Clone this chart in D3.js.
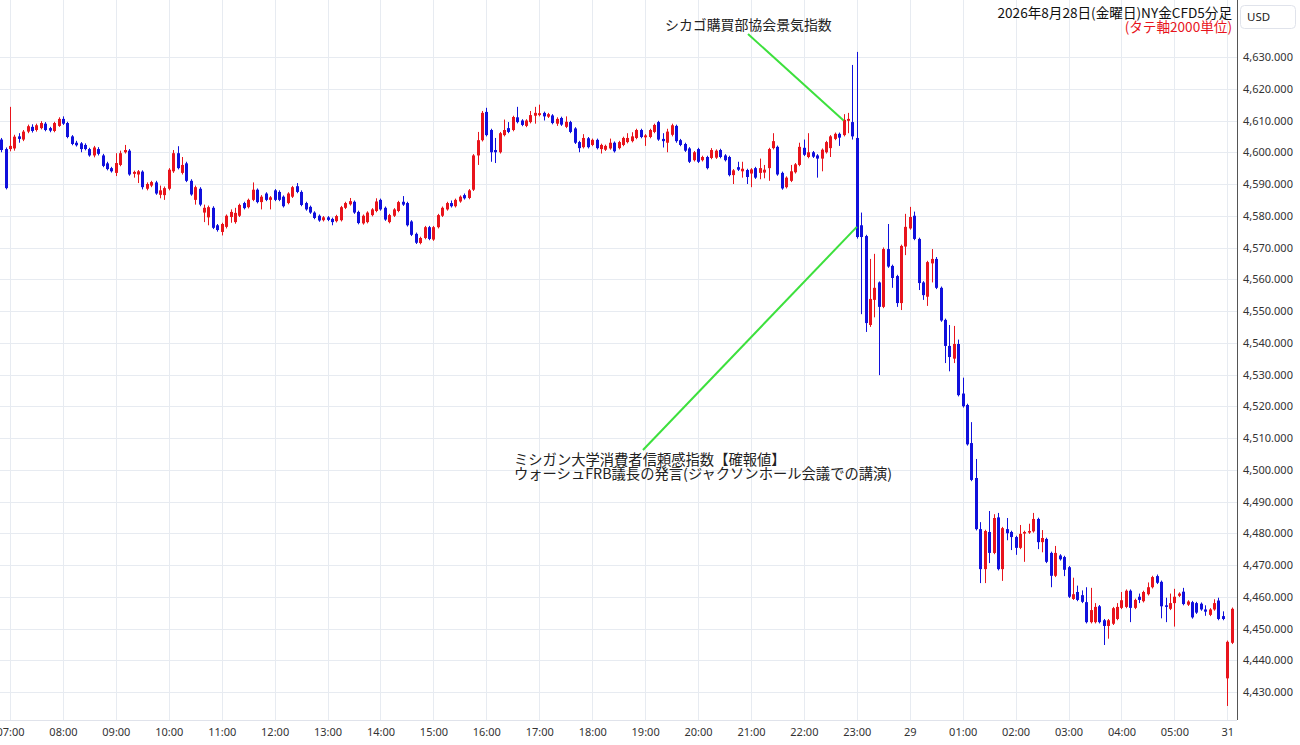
<!DOCTYPE html>
<html><head><meta charset="utf-8">
<script src="https://cdn.jsdelivr.net/npm/d3@7"></script>
<style>body{margin:0;background:#fff;} svg{display:block;}</style>
</head><body>
<svg id="c" width="1300" height="745"></svg>
<script>
// time-axis labels (one every 12 five-minute bars, first bar index = 06:50)
const timeLabels = ["07:00","08:00","09:00","10:00","11:00","12:00","13:00","14:00","15:00","16:00","17:00","18:00","19:00","20:00","21:00","22:00","23:00","29","01:00","02:00","03:00","04:00","05:00","31"];
const priceTicks = [4430,4440,4450,4460,4470,4480,4490,4500,4510,4520,4530,4540,4550,4560,4570,4580,4590,4600,4610,4620,4630];
// 5-minute bars [open, high, low, close], starting at 06:50
const bars = [
[4604,4604.5,4600,4600.7],[4601,4601.5,4588.3,4588.7],
[4601,4614.3,4600.3,4602],[4601.2,4605.5,4600.5,4604.9],[4605,4606,4603,4604.2],[4604,4607,4603.5,4606.5],[4606.5,4608.7,4606,4608.2],[4608,4608.8,4606.2,4606.7],
[4607,4609,4606.5,4608.5],[4607.6,4609.8,4607.2,4609.2],[4609,4609.5,4606.6,4607],[4607.6,4608,4606.3,4606.8],[4606.7,4609.6,4606.3,4609.2],[4608.3,4611,4608,4610.5],
[4610.5,4611.3,4608.6,4609],[4609.2,4609.6,4604.4,4604.8],[4605,4605.4,4602.2,4602.6],[4603,4603.6,4601.8,4602.2],[4602.8,4603.2,4600,4601],[4602.3,4602.8,4600.6,4601],
[4601,4601.4,4598.6,4599],[4599,4602,4598.4,4601.5],[4601,4601.6,4599,4599.5],[4599,4599.5,4595.3,4595.7],[4596.5,4597,4594.3,4594.7],[4595,4595.4,4593.6,4594],
[4593.5,4599.7,4592.5,4596.6],[4596,4600.5,4595.6,4599.7],[4600,4602.3,4599.6,4600.7],[4600.5,4601,4592.6,4593],[4593.2,4594.2,4592,4593.8],[4593,4594.4,4590.3,4594],
[4593.9,4594.3,4588.3,4589],[4588.5,4590.5,4588,4590],[4589.5,4591,4589,4590.6],[4590.5,4591,4586.6,4587],[4586.6,4589.5,4585.5,4588],[4586.5,4589.2,4585,4588.7],
[4588.5,4595,4588,4594.5],[4594,4600.7,4593.5,4599.7],[4599.7,4601.9,4594.6,4595],[4593.5,4598.5,4593,4596],[4596.5,4597,4590.6,4591],[4591,4591.5,4586.3,4586.7],
[4585,4589.5,4583.5,4589],[4588.5,4589,4583,4583.5],[4581,4583.5,4578,4582.5],[4579.5,4583.2,4577,4582.7],[4582.5,4583,4575.8,4576.2],[4577,4577.4,4575,4575.5],
[4574.9,4577.8,4573.8,4577.4],[4576.5,4580.4,4576,4580],[4579.6,4582,4577.8,4581.2],[4578,4582.5,4577.5,4580.9],[4580,4583.8,4579.6,4583.4],[4584,4584.4,4582,4582.4],
[4582.7,4585.4,4582.3,4585],[4585,4590.5,4584.6,4588.2],[4588.2,4588.6,4583.9,4584.3],[4584.3,4586.5,4582,4586],[4587,4587.4,4584.6,4585],[4585,4586.2,4582,4585.8],
[4588,4588.4,4584.6,4585],[4587.5,4588,4584.6,4585],[4586,4586.4,4582.6,4583],[4584,4587.4,4583.6,4587],[4586,4589.4,4585.6,4589],[4589.3,4590.3,4587.1,4587.5],
[4587.5,4588,4583,4583.4],[4584,4584.4,4581.6,4582],[4582.8,4583.2,4580.6,4581],[4581,4581.4,4578.9,4579.3],[4580,4580.4,4578.1,4578.5],[4578.6,4579.9,4578.2,4579.5],
[4579.5,4579.9,4578.3,4578.7],[4579,4579.4,4577,4578],[4578.3,4580.3,4577.9,4579.9],[4578.6,4583.1,4578.2,4582.7],[4582.5,4584.4,4582.1,4584],[4583.6,4585.6,4583.2,4584.6],
[4584.4,4584.8,4580.6,4581],[4581.2,4581.6,4577.3,4577.7],[4577.6,4580.4,4577.2,4580],[4578,4581.4,4577.6,4581],[4580.2,4582.4,4579.8,4582],[4581.5,4585.5,4581.1,4584.5],
[4585,4585.4,4581.6,4582],[4582.5,4582.9,4578.4,4578.8],[4578,4580.6,4577.6,4580.2],[4580,4582.4,4579.6,4582],[4581.5,4584.7,4581.1,4584.3],[4584.4,4586.2,4583.1,4583.5],
[4584,4584.4,4576.6,4577],[4578.2,4578.6,4573.6,4574],[4574.3,4574.7,4571.1,4571.5],[4571.4,4573.4,4571,4573],[4573,4576.8,4572.6,4576.4],[4576.4,4576.8,4572.3,4572.7],
[4572.5,4576.8,4572.1,4576.4],[4576.4,4580.6,4576,4580.2],[4580,4582.9,4579.6,4582.5],[4582,4584.4,4581.6,4584],[4584,4584.8,4582.6,4583],[4583,4585.4,4582.6,4585],
[4584.5,4586.4,4584.1,4586],[4586.5,4587,4585.1,4585.5],[4585.6,4588.4,4585.2,4588],[4588.2,4599.4,4587.8,4599],[4599,4606.4,4596,4603.8],[4603.8,4613,4603.4,4612.4],
[4612.7,4614,4605,4605.4],[4607,4607.4,4597,4600],[4600.7,4604.5,4596.6,4600],[4600,4606.4,4599.6,4606],[4605.4,4610.3,4605,4607],[4607.6,4609.5,4606,4606.4],
[4607,4611.5,4606.6,4611.1],[4611,4614.3,4609.1,4609.5],[4610,4610.4,4608.2,4608.6],[4608.3,4610.4,4607.9,4610],[4609.5,4613,4609.1,4611.7],[4611.5,4614.3,4609,4612.4],
[4611.7,4615,4611.3,4612.3],[4612.4,4612.8,4610,4611.3],[4611.2,4612.4,4610.8,4612],[4611.6,4612,4608.8,4609.2],[4609,4611,4608.3,4610.5],[4610.8,4611.2,4608.3,4608.7],
[4608,4611.3,4607.6,4609.6],[4609.5,4609.9,4606,4606.4],[4607.5,4607.9,4602.6,4603],[4603.2,4603.6,4600,4601.3],[4601.6,4605.7,4601.2,4604.5],[4604.4,4604.8,4601.2,4601.6],
[4602.3,4604.3,4601.9,4603.9],[4603.9,4604.3,4600.9,4601.3],[4601,4602.7,4599.6,4602.3],[4600.8,4602.4,4600.4,4602],[4601.2,4604.3,4600.8,4603],[4603,4603.4,4599.9,4600.3],
[4601.3,4603.6,4600.9,4603.2],[4602.3,4604.9,4601.9,4604.5],[4603.2,4606,4602.8,4604.5],[4603.5,4606.3,4603.1,4605],[4604.5,4607.4,4604.1,4607],[4607,4607.4,4604.4,4604.8],
[4604.7,4605.7,4602,4605.3],[4604.8,4607.4,4604.4,4607],[4606.4,4609,4606,4608.6],[4609.5,4609.9,4603.6,4604],[4604.2,4606,4601.5,4603.5],[4603,4607.4,4600,4606.5],
[4605.5,4609,4605,4608.5],[4608.3,4608.7,4603,4603.5],[4603.8,4604.2,4601.9,4602.3],[4602.6,4603,4600.1,4600.5],[4601.2,4601.6,4596.6,4597],[4597.5,4600.4,4597.1,4600],
[4601,4601.4,4596.6,4597],[4597.5,4598.9,4597.1,4598.5],[4598.5,4598.9,4594.6,4595],[4598.2,4601.3,4597.8,4600.7],[4598.3,4600.9,4597.9,4600.5],[4600.7,4601.1,4598.1,4598.5],
[4599,4599.4,4597.1,4597.5],[4598.5,4598.9,4592.4,4592.8],[4592.8,4594.7,4590,4594.3],[4595.3,4597,4594.1,4594.5],[4594,4597,4592,4594.8],[4594.4,4594.8,4590,4592.2],
[4593.3,4595,4589,4594.6],[4595,4595.4,4591.6,4592],[4593.5,4598,4591.5,4595],[4593.6,4596,4591.8,4594.5],[4595,4601.4,4591,4601],[4601.3,4606,4600.9,4603.5],
[4601.7,4602.1,4592.6,4593],[4593.5,4593.9,4588.2,4588.6],[4589,4592.4,4588.6,4592],[4591,4596,4590.6,4594],[4593.7,4596.6,4593.3,4596.2],[4596,4603,4595.6,4601.7],
[4601.4,4604,4598.8,4599.2],[4598.5,4606,4598.1,4600],[4600,4600.4,4598.2,4598.6],[4599,4599.4,4592,4598],[4598,4601.2,4594,4600.8],[4600,4603.6,4599.6,4603.2],
[4601.3,4605.4,4598.5,4605],[4604.2,4606.2,4603.8,4605.8],[4605.8,4606.2,4602,4604.6],[4605.4,4612,4605,4610.2],[4609.9,4612.4,4606,4610.5],[4609.5,4627.5,4604,4605],
[4604.5,4631.6,4572.8,4573.3],[4577,4581,4549,4573.3],[4573.6,4574,4543.4,4546.2],[4545.6,4566.4,4545,4553.8],[4553.5,4568,4548,4557.3],[4559,4559.3,4529.8,4551.3],
[4551.3,4570,4550.9,4569.5],[4569.5,4577.4,4563.6,4564],[4564.2,4564.6,4557.3,4560.4],[4561,4561.4,4551.3,4552.5],[4552.5,4570.9,4550.3,4570.5],[4570.3,4580.6,4567.6,4576.5],
[4576,4582.8,4575.6,4579.6],[4580,4581.3,4572.3,4572.7],[4572.7,4573.1,4556.6,4558.8],[4559,4559.4,4553.5,4555],[4554.5,4565.8,4551.6,4565.4],[4565,4569.5,4559,4566.4],
[4566.4,4567,4556.9,4557.3],[4557.3,4557.7,4546.6,4547],[4547.2,4547.6,4533.6,4539],[4539,4545.6,4531,4535.5],[4535,4545.3,4533.6,4539.6],[4539.6,4541,4523.1,4523.5],
[4524,4529,4519.6,4520],[4520.4,4520.8,4507.6,4508],[4508.4,4515,4496.4,4496.8],[4497.4,4503.4,4480.9,4481.3],[4481.3,4483.5,4464.3,4468.7],[4468.7,4481.1,4464.3,4480.7],
[4480.4,4487,4470.6,4473.8],[4473.8,4486,4473.4,4484.8],[4485,4486.4,4468.3,4468.7],[4468.7,4482,4465,4481.6],[4481.3,4484.8,4477.8,4480],[4480.4,4480.8,4474.7,4478.8],
[4478.8,4479.2,4473.2,4475.4],[4475.4,4482.6,4475,4479.8],[4479.9,4480.8,4471,4480.4],[4480.2,4483,4479.8,4480.7],[4480.6,4486.4,4480.2,4484.5],[4484.5,4484.9,4475,4477.2],
[4477.2,4481,4474,4478.5],[4478.2,4478.6,4470.6,4471],[4473.8,4474.2,4463,4466.6],[4466.6,4476,4466.2,4473.8],[4473,4473.4,4471.4,4471.8],[4472.5,4472.9,4466.5,4468.5],
[4469.3,4469.7,4459.6,4460],[4459.3,4466,4459,4460.8],[4461.5,4463.5,4458.6,4459],[4460.5,4462,4458,4458.4],[4458.3,4463,4451.6,4452],[4452,4462.8,4451.6,4455.8],
[4452,4458,4451.6,4456.8],[4457,4457.4,4451.6,4452],[4452.6,4453,4444.8,4450.8],[4450.8,4453,4446.8,4452.6],[4451.5,4456.8,4451.1,4456.4],[4453,4458,4452.6,4456.8],
[4456.5,4461.5,4456.1,4458.9],[4456.8,4462.3,4456.4,4461.9],[4461.9,4462.3,4452,4456.5],[4456.5,4459.4,4456.1,4459],[4460,4461,4458,4459],[4458.6,4461.9,4458.2,4461.5],
[4460.8,4464.5,4460.4,4463],[4463,4466.6,4462.6,4466.2],[4466.5,4467,4464,4464.4],[4464.7,4465.1,4453.2,4457],[4457.3,4459.7,4452,4456.8],[4456.2,4461,4455.8,4458],
[4458,4462.5,4450.6,4460],[4460.3,4461.4,4459.9,4461],[4461.6,4462.8,4457.3,4457.7],[4457.5,4458.9,4457.1,4458.5],[4458.3,4458.7,4453.1,4453.5],[4458,4458.4,4454.6,4455],
[4457.8,4458.2,4455.6,4456],[4456,4457.3,4454,4455.3],[4454.3,4456.4,4453.9,4456],[4456,4459.2,4455.6,4458],[4458.8,4459.7,4452.6,4453],[4453.9,4455.4,4452.6,4453],
[4434.3,4446.2,4425.6,4445.8],[4445.5,4456.6,4445.1,4456.2]
];
const titleLines = ["2026年8月28日(金曜日)NY金CFD5分足", "(タテ軸2000単位)"];
const notes = [
  {lines:["シカゴ購買部協会景気指数"], bar:191, price:4610},
  {lines:["ミシガン大学消費者信頼感指数【確報値】","ウォーシュFRB議長の発言(ジャクソンホール会議での講演)"], bar:194, price:4576.5}
];

const W = 1300, H = 745, plotR = 1237, plotB = 720;
const svg = d3.select("#c");
const x = d3.scaleLinear().domain([-0.27, 280.2]).range([0, plotR]);
const y = d3.scaleLinear().domain([4430, 4630]).range([692, 57]);
const fontUI = "'Noto Sans', 'DejaVu Sans', sans-serif";
const fontJP = "'Noto Sans CJK JP', 'Noto Sans', sans-serif";

svg.append("defs").append("clipPath").attr("id","pc").append("rect")
  .attr("x",0).attr("y",0).attr("width",plotR).attr("height",plotB);

const tickIdx = timeLabels.map((_, j) => 2 + 12 * j);

// grid
const g = svg.append("g").attr("clip-path","url(#pc)");
g.selectAll("line.h").data(priceTicks).join("line")
  .attr("x1",0).attr("x2",plotR).attr("y1",d=>Math.round(y(d))+0.5).attr("y2",d=>Math.round(y(d))+0.5)
  .attr("stroke","#e7ebf1").attr("stroke-width",1);
g.selectAll("line.v").data(tickIdx).join("line")
  .attr("y1",0).attr("y2",plotB).attr("x1",d=>Math.round(x(d))+0.5).attr("x2",d=>Math.round(x(d))+0.5)
  .attr("stroke","#e7ebf1").attr("stroke-width",1);

// candles
const up = "#e8141c", dn = "#1010dc";
const cg = g.append("g");
const bw = 3;
cg.selectAll("line.w").data(bars).join("line")
  .attr("x1",(d,i)=>Math.round(x(i))+0.5).attr("x2",(d,i)=>Math.round(x(i))+0.5)
  .attr("y1",d=>y(d[1])).attr("y2",d=>y(d[2]))
  .attr("stroke",d=>d[3]>=d[0]?up:dn).attr("stroke-width",1);
cg.selectAll("rect").data(bars).join("rect")
  .attr("x",(d,i)=>Math.round(x(i))-1)
  .attr("width",bw)
  .attr("y",d=>y(Math.max(d[0],d[3])))
  .attr("height",d=>Math.max(1.2, Math.abs(y(d[0])-y(d[3]))))
  .attr("fill",d=>d[3]>=d[0]?up:dn);

// annotations
const n1 = notes[0], n2 = notes[1];
svg.append("line").attr("x1",748).attr("y1",34).attr("x2",x(n1.bar)).attr("y2",y(n1.price))
  .attr("stroke","#3de03d").attr("stroke-width",2);
svg.append("line").attr("x1",643).attr("y1",450).attr("x2",x(n2.bar)).attr("y2",y(n2.price))
  .attr("stroke","#3de03d").attr("stroke-width",2);
svg.append("text").attr("x",665).attr("y",30).attr("font-family",fontJP).attr("font-size",13.9)
  .attr("fill","#222").text(n1.lines[0]);
n2.lines.forEach((t,k)=>{
  svg.append("text").attr("x",514).attr("y",465+k*14).attr("font-family",fontJP).attr("font-size",14.3)
    .attr("fill","#222").text(t);
});

// title
svg.append("text").attr("x",1232).attr("y",18).attr("text-anchor","end").attr("font-family",fontJP)
  .attr("font-size",13.6).attr("fill","#111").text(titleLines[0]);
svg.append("text").attr("x",1232).attr("y",32).attr("text-anchor","end").attr("font-family",fontJP)
  .attr("font-size",13.6).attr("fill","#e8141c").text(titleLines[1]);

// right axis
svg.append("line").attr("x1",plotR+0.5).attr("x2",plotR+0.5).attr("y1",0).attr("y2",plotB)
  .attr("stroke","#555").attr("stroke-width",1);
const yAxis = d3.axisRight(y).tickValues(priceTicks).tickSize(0).tickPadding(6)
  .tickFormat(d=>d3.format(",.3f")(d));
const ya = svg.append("g").attr("transform",`translate(${plotR},0)`).call(yAxis);
ya.select(".domain").remove();
ya.selectAll("text").attr("font-family",fontUI).attr("font-size",11).attr("fill","#333");
svg.append("rect").attr("x",1240.5).attr("y",5.5).attr("width",55).attr("height",23).attr("rx",4)
  .attr("fill","#fff").attr("stroke","#e0e3eb");
svg.append("text").attr("x",1247).attr("y",21).attr("font-family",fontUI).attr("font-size",11.5)
  .attr("fill","#222").text("USD");

// bottom axis
svg.append("line").attr("x1",0).attr("x2",plotR).attr("y1",plotB+0.5).attr("y2",plotB+0.5)
  .attr("stroke","#e0e3eb");
const xAxis = d3.axisBottom(x).tickValues(tickIdx).tickSize(0).tickPadding(8)
  .tickFormat((d,j)=>timeLabels[j]);
const xa = svg.append("g").attr("transform",`translate(0,${plotB})`).call(xAxis);
xa.select(".domain").remove();
xa.selectAll("text").attr("font-family",fontUI).attr("font-size",11).attr("fill","#333");
</script>
</body></html>
